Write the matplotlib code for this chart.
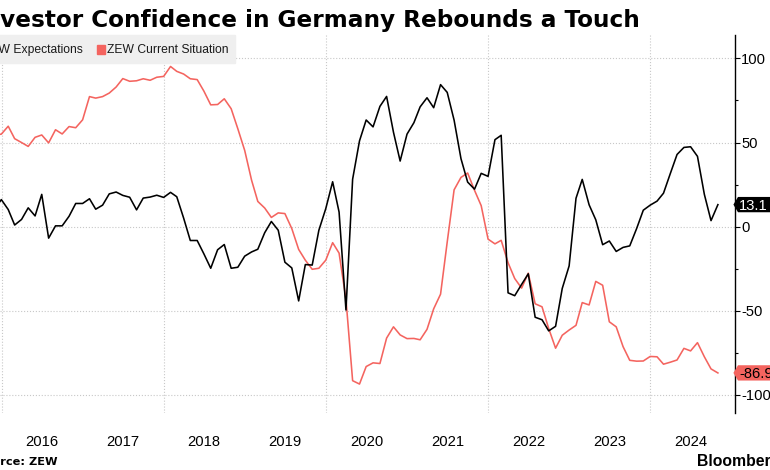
import numpy as np
import pandas as pd
import matplotlib
matplotlib.use('Agg')
import matplotlib.pyplot as plt
import matplotlib.dates as mdates
from matplotlib.path import Path
from matplotlib.patches import Rectangle

# ZEW survey, monthly, Jan 2015 - Oct 2024
expectations = [
    48.4, 53.0, 54.8, 53.3, 41.9, 31.5, 29.7, 25.0, 12.1, 1.9, 10.4, 16.1,
    10.2, 1.0, 4.3, 11.2, 6.4, 19.2, -6.8, 0.5, 0.5, 6.2, 13.8, 13.8,
    16.6, 10.4, 12.8, 19.5, 20.6, 18.6, 17.5, 10.0, 17.0, 17.6, 18.7, 17.4,
    20.4, 17.8, 5.1, -8.2, -8.2, -16.1, -24.7, -13.7, -10.6, -24.7, -24.1, -17.5,
    -15.0, -13.4, -3.6, 3.1, -2.1, -21.1, -24.5, -44.1, -22.5, -22.8, -2.1, 10.7,
    26.7, 8.7, -49.5, 28.2, 51.0, 63.4, 59.3, 71.5, 77.4, 56.1, 39.0, 55.0,
    61.8, 71.2, 76.6, 70.7, 84.4, 79.8, 63.3, 40.4, 26.5, 22.3, 31.7, 29.9,
    51.7, 54.3, -39.3, -41.0, -34.3, -28.0, -53.8, -55.3, -61.9, -59.2, -36.7, -23.3,
    16.9, 28.1, 13.0, 4.1, -10.7, -8.5, -14.7, -12.3, -11.4, -1.1, 9.8, 12.8,
    15.2, 19.9, 31.7, 42.9, 47.1, 47.5, 41.8, 19.2, 3.6, 13.1,
]
current = [
    22.4, 45.5, 55.1, 70.2, 65.7, 62.9, 63.9, 65.7, 67.5, 55.2, 54.4, 55.0,
    59.7, 52.3, 50.0, 47.7, 53.1, 54.5, 49.8, 57.6, 55.1, 59.5, 58.8, 63.5,
    77.3, 76.4, 77.3, 79.4, 83.0, 88.0, 86.4, 86.7, 87.9, 87.0, 88.8, 89.3,
    95.2, 92.3, 90.7, 87.9, 87.4, 80.6, 72.4, 72.6, 76.0, 70.1, 58.2, 45.3,
    27.6, 15.0, 11.1, 5.5, 8.2, 7.8, -1.1, -13.5, -19.9, -25.3, -24.7, -19.9,
    -9.5, -15.7, -43.1, -91.5, -93.5, -83.1, -80.9, -81.3, -66.2, -59.5, -64.3, -66.5,
    -66.4, -67.2, -61.0, -48.8, -40.1, -9.1, 21.9, 29.3, 31.9, 21.6, 12.5, -7.4,
    -10.2, -8.1, -21.4, -30.8, -36.5, -27.6, -45.8, -47.6, -60.5, -72.2, -64.5, -61.4,
    -58.6, -45.1, -46.5, -32.5, -34.8, -56.5, -59.5, -71.3, -79.4, -79.9, -79.8, -77.1,
    -77.3, -81.7, -80.5, -79.2, -72.3, -73.8, -68.9, -77.3, -84.5, -86.9,
]
dates = pd.date_range('2015-01-01', periods=len(expectations), freq='MS') + pd.offsets.MonthEnd(0)

RED = '#f4645f'
W, H = 770, 470

plt.rcParams['font.family'] = ['Liberation Sans', 'DejaVu Sans']
plt.rcParams['axes.unicode_minus'] = False


def tag_box(x0, y0, width, height, mutation_size):
    ms = mutation_size
    cy = y0 + (height + 0.21 * ms) / 2
    half = 0.52 * ms
    left = x0 - 0.09 * ms
    tip = x0 - 0.40 * ms
    right = x0 + width + 3 * ms
    verts = [(tip, cy), (left, cy - half), (right, cy - half), (right, cy + half),
             (left, cy + half), (tip, cy)]
    return Path(verts, closed=True)


fig = plt.figure(figsize=(W / 100, H / 100), dpi=100)
ax = fig.add_axes([0, 1 - 413 / H, 735 / W, (413 - 35) / H])

ax.plot(dates, current, color=RED, lw=1.15)
ax.plot(dates, expectations, color='black', lw=1.15)

ax.set_xlim(pd.Timestamp('2015-12-25'), pd.Timestamp('2025-01-16'))
ax.set_ylim(-110.7, 113.9)

for s in ['left', 'top', 'bottom']:
    ax.spines[s].set_visible(False)
ax.spines['right'].set_linewidth(1.0)

ax.yaxis.tick_right()
ax.set_yticks([-100, -50, 0, 50, 100])
ax.set_yticks([-75, -25, 25, 75], minor=True)
ax.tick_params(axis='y', which='major', length=3.6, width=0.8, pad=0.8, labelsize=10.6)
ax.tick_params(axis='y', which='minor', length=2.2, width=0.8)

ax.xaxis.set_major_locator(mdates.MonthLocator(bymonth=7))
ax.xaxis.set_major_formatter(mdates.DateFormatter('%Y'))
ax.xaxis.set_minor_locator(mdates.YearLocator(2))
ax.tick_params(axis='x', which='both', length=0, pad=15.5, labelsize=10.6)

ax.set_axisbelow(True)
ax.grid(axis='y', which='major', ls=':', color='#c8c8c8', lw=0.8)
ax.grid(axis='x', which='minor', ls=':', color='#c8c8c8', lw=0.8)

# last value tags
for vals, fc, tc in [(expectations, 'black', 'white'), (current, RED, 'black')]:
    ax.annotate(f'{vals[-1]:.1f}', xy=(1, vals[-1]), xycoords=('axes fraction', 'data'),
                xytext=(3.1, 0), textcoords='offset points', ha='left', va='center_baseline',
                fontsize=10.6, color=tc, annotation_clip=False,
                bbox=dict(boxstyle=tag_box, fc=fc, ec='none'))

# legend
fig.patches.append(Rectangle((-40 / W, 1 - 63 / H), (235 + 40) / W, 28 / H,
                             transform=fig.transFigure, color='#efefef', zorder=1))
fig.patches.append(Rectangle((-27 / W, 1 - 54 / H), 8 / W, 9 / H,
                             transform=fig.transFigure, color='black', zorder=2))
fig.patches.append(Rectangle((96.7 / W, 1 - 54 / H), 8 / W, 9 / H,
                             transform=fig.transFigure, color=RED, zorder=2))
fig.text(83 / W, 1 - 50 / H, 'ZEW Expectations', ha='right', va='center',
         fontsize=8.7, color='#1a1a1a', zorder=3)
fig.text(107.3 / W, 1 - 50 / H, 'ZEW Current Situation', ha='left', va='center',
         fontsize=8.7, color='#1a1a1a', zorder=3)

fig.text(-25.1 / W, 1 - 27 / H, 'Investor Confidence in Germany Rebounds a Touch',
         family='DejaVu Sans', weight='bold', fontsize=16.7, va='baseline')
fig.text(-24 / W, 1 - 465 / H, 'Source: ZEW', family='DejaVu Sans', weight='bold',
         fontsize=8.2, va='baseline')
fig.text(697 / W, 1 - 466 / H, 'Bloomberg', family='Liberation Sans', weight='bold',
         fontsize=11.3, va='baseline')

plt.savefig('out.png', dpi=100)
